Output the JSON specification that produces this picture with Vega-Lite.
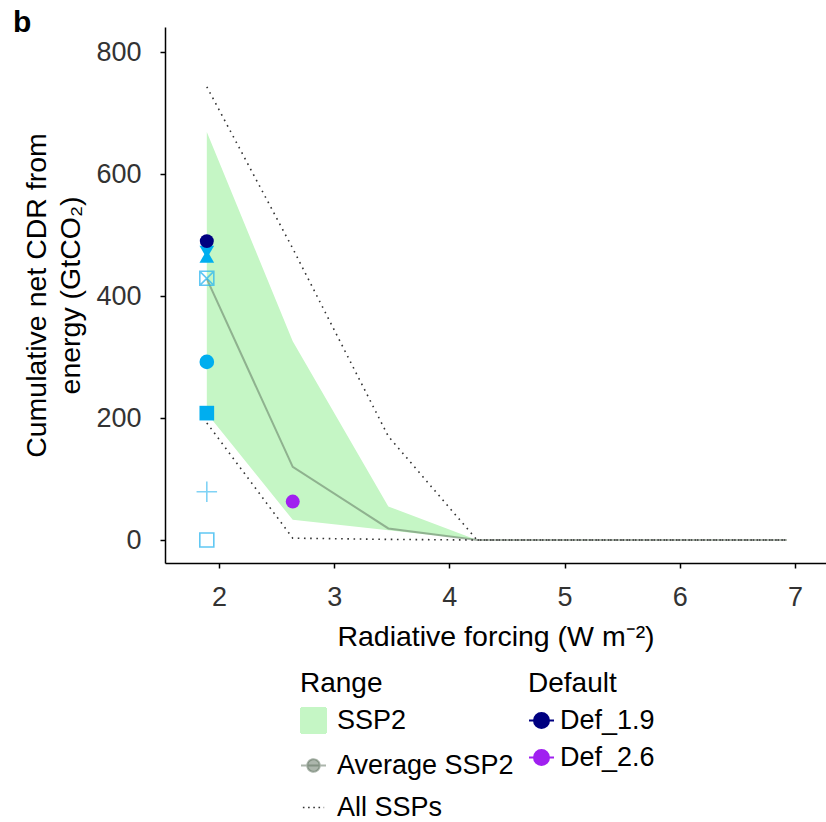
{
  "$schema": "https://vega.github.io/schema/vega-lite/v6.json",
  "width": 661,
  "height": 536,
  "autosize": {"type": "none"},
  "padding": {"left": 165, "top": 27, "right": 0, "bottom": 259},
  "background": "white",
  "title": {"text": "b", "anchor": "start", "frame": "bounds", "fontSize": 30, "fontWeight": "bold", "color": "#000", "baseline": "alphabetic", "offset": 0, "dy": 35, "dx": -10},
  "config": {
    "font": "Liberation Sans",
    "view": {"stroke": null},
    "axis": {"grid": false, "domainColor": "#000", "domainWidth": 1.5, "tickColor": "#000", "tickWidth": 1.5, "tickSize": 5, "labelFontSize": 27, "labelColor": "#333", "titleFontSize": 28.5, "titleFontWeight": "normal", "titleColor": "#000"},
    "axisX": {"labelPadding": 16, "titlePadding": 12},
    "axisY": {"labelPadding": 19, "titlePadding": 10, "titleLineHeight": 34},
    "legend": {"titleFontSize": 28, "titleFontWeight": "normal", "titleColor": "#000", "labelFontSize": 27, "labelColor": "#000", "labelLimit": 400, "padding": 0, "symbolOpacity": 1}
  },
  "datasets": {
    "range": [
      {"x": 1.894, "lo": 208, "hi": 669, "avg": 428, "allLo": 192, "allHi": 743},
      {"x": 2.64, "lo": 33, "hi": 326, "avg": 120, "allLo": 3, "allHi": 478},
      {"x": 3.47, "lo": 16, "hi": 55, "avg": 19, "allLo": 1, "allHi": 170},
      {"x": 4.24, "lo": 0, "hi": 0, "avg": 0, "allLo": 0, "allHi": 0},
      {"x": 6.93, "lo": 0, "hi": 0, "avg": 0, "allLo": 0, "allHi": 0}
    ],
    "pts": [
      {"x": 1.894, "y": 490, "scen": "Def_1.9"},
      {"x": 2.64, "y": 63, "scen": "Def_2.6"},
      {"x": 1.894, "y": 465, "scen": "S1"},
      {"x": 1.894, "y": 472, "scen": "S2"},
      {"x": 1.894, "y": 292, "scen": "S3"},
      {"x": 1.894, "y": 208, "scen": "S4"},
      {"x": 1.894, "y": 429, "scen": "S5"},
      {"x": 1.894, "y": 0, "scen": "S7"},
      {"x": 1.894, "y": 79, "scen": "S6"}
    ]
  },
  "resolve": {"scale": {"shape": "independent"}},
  "layer": [
    {
      "data": {"name": "range"},
      "mark": {"type": "area", "opacity": 1},
      "encoding": {
        "x": {"field": "x", "type": "quantitative", "scale": {"domain": [1.531, 7.27], "nice": false, "zero": false}, "axis": {"values": [2, 3, 4, 5, 6, 7], "format": "d", "title": "Radiative forcing (W m⁻²)"}},
        "y": {"field": "lo", "type": "quantitative", "scale": {"domain": [-37.7, 841], "nice": false, "zero": false}, "axis": {"values": [0, 200, 400, 600, 800], "format": "d", "title": ["Cumulative net CDR from", "energy (GtCO₂)"]}},
        "y2": {"field": "hi"},
        "color": {
          "datum": "SSP2", "type": "nominal",
          "scale": {"domain": ["SSP2", "Average SSP2", "All SSPs"], "range": ["#C5F6C5", "rgba(90,110,90,0.5)", "#333333"]},
          "legend": {
            "title": "Range", "orient": "none", "legendX": 135, "legendY": 643, "direction": "vertical",
            "symbolSize": 625, "rowPadding": 14, "titlePadding": 9, "labelOffset": 10,
            "encode": {"symbols": {"update": {
              "shape": {"signal": "datum.value === 'SSP2' ? 'square' : (datum.value === 'Average SSP2' ? 'M-1,0H1M-0.5,0A0.5,0.5 0 1,1 0.5,0A0.5,0.5 0 1,1 -0.5,0Z' : 'M-0.85,0H0.85')"},
              "strokeWidth": {"signal": "datum.value === 'All SSPs' ? 1.6 : 2"},
              "strokeDash": {"signal": "datum.value === 'All SSPs' ? [1.6, 3.6] : [1, 0]"}
            }}}
          }
        }
      }
    },
    {
      "data": {"name": "range"},
      "mark": {"type": "line", "strokeWidth": 2},
      "encoding": {
        "x": {"field": "x", "type": "quantitative", "title": "Radiative forcing (W m⁻²)"},
        "y": {"field": "avg", "type": "quantitative", "title": ["Cumulative net CDR from", "energy (GtCO₂)"]},
        "color": {"datum": "Average SSP2", "type": "nominal"}
      }
    },
    {
      "data": {"name": "range"},
      "mark": {"type": "line", "strokeWidth": 1.6, "strokeDash": [1.6, 4.6]},
      "encoding": {
        "x": {"field": "x", "type": "quantitative", "title": "Radiative forcing (W m⁻²)"},
        "y": {"field": "allHi", "type": "quantitative", "title": ["Cumulative net CDR from", "energy (GtCO₂)"]},
        "color": {"datum": "All SSPs", "type": "nominal"}
      }
    },
    {
      "data": {"name": "range"},
      "mark": {"type": "line", "strokeWidth": 1.6, "strokeDash": [1.6, 4.6]},
      "encoding": {
        "x": {"field": "x", "type": "quantitative", "title": "Radiative forcing (W m⁻²)"},
        "y": {"field": "allLo", "type": "quantitative", "title": ["Cumulative net CDR from", "energy (GtCO₂)"]},
        "color": {"datum": "All SSPs", "type": "nominal"}
      }
    },
    {
      "data": {"name": "pts"},
      "transform": [{"filter": {"field": "scen", "oneOf": ["S1", "S2", "S3", "S4"]}}],
      "mark": {"type": "point", "filled": true, "opacity": 1, "size": 215, "color": "#00AEEF"},
      "encoding": {
        "x": {"field": "x", "type": "quantitative", "title": "Radiative forcing (W m⁻²)"},
        "y": {"field": "y", "type": "quantitative", "title": ["Cumulative net CDR from", "energy (GtCO₂)"]},
        "shape": {"field": "scen", "type": "nominal", "scale": {"domain": ["S1", "S2", "S3", "S4"], "range": ["triangle-up", "triangle-down", "circle", "square"]}, "legend": null}
      }
    },
    {
      "data": {"name": "pts"},
      "transform": [{"filter": {"field": "scen", "oneOf": ["S5", "S7"]}}],
      "mark": {"type": "point", "filled": false, "opacity": 0.75, "size": 196, "color": "#2DB6F0", "strokeWidth": 1.6},
      "encoding": {
        "x": {"field": "x", "type": "quantitative", "title": "Radiative forcing (W m⁻²)"},
        "y": {"field": "y", "type": "quantitative", "title": ["Cumulative net CDR from", "energy (GtCO₂)"]},
        "shape": {"field": "scen", "type": "nominal", "scale": {"domain": ["S5", "S7"], "range": ["M-1,-1H1V1H-1ZM-1,-1L1,1M1,-1L-1,1", "square"]}, "legend": null}
      }
    },
    {
      "data": {"name": "pts"},
      "transform": [{"filter": {"field": "scen", "equal": "S6"}}],
      "mark": {"type": "point", "filled": false, "opacity": 0.6, "size": 420, "color": "#2DB6F0", "strokeWidth": 1.6, "shape": "M-1,0H1M0,-1V1"},
      "encoding": {
        "x": {"field": "x", "type": "quantitative", "title": "Radiative forcing (W m⁻²)"},
        "y": {"field": "y", "type": "quantitative", "title": ["Cumulative net CDR from", "energy (GtCO₂)"]}
      }
    },
    {
      "data": {"name": "pts"},
      "transform": [{"filter": {"field": "scen", "oneOf": ["Def_1.9", "Def_2.6"]}}],
      "mark": {"type": "point", "filled": true, "opacity": 1, "size": 195, "shape": "circle"},
      "encoding": {
        "x": {"field": "x", "type": "quantitative", "title": "Radiative forcing (W m⁻²)"},
        "y": {"field": "y", "type": "quantitative", "title": ["Cumulative net CDR from", "energy (GtCO₂)"]},
        "fill": {
          "field": "scen", "type": "nominal",
          "scale": {"domain": ["Def_1.9", "Def_2.6"], "range": ["#000080", "#A020F0"]},
          "legend": {
            "title": "Default", "orient": "none", "legendX": 363, "legendY": 643, "direction": "vertical",
            "symbolSize": 625, "rowPadding": 9, "titlePadding": 9, "labelOffset": 5,
            "encode": {"symbols": {"update": {
              "shape": {"value": "M-1,0H1M-0.6,0A0.6,0.6 0 1,1 0.6,0A0.6,0.6 0 1,1 -0.6,0Z"},
              "stroke": {"signal": "datum.value === 'Def_1.9' ? '#000080' : '#A020F0'"},
              "strokeWidth": {"value": 2}
            }}}
          }
        }
      }
    }
  ]
}
